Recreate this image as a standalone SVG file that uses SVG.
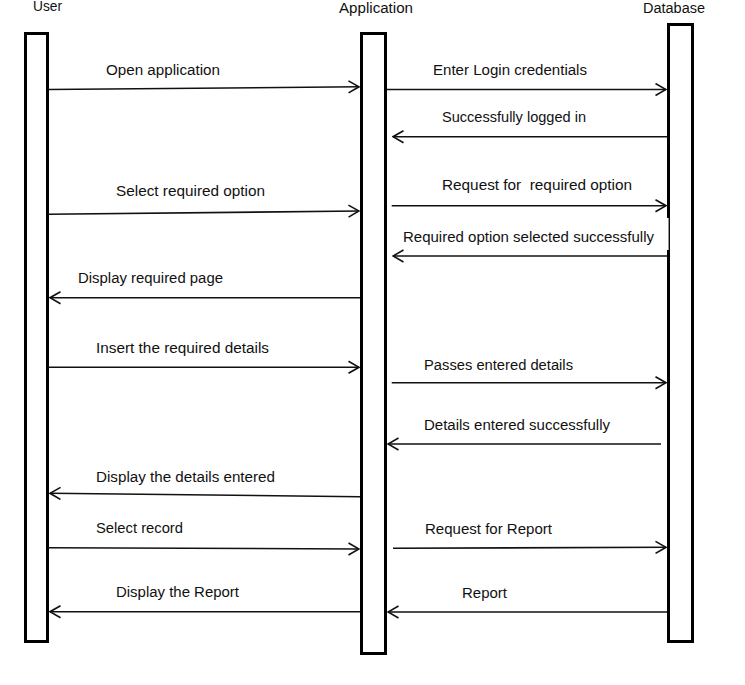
<svg xmlns="http://www.w3.org/2000/svg" width="745" height="685" viewBox="0 0 745 685">
<style>
.life{fill:#ffffff;stroke:#000000;stroke-width:3}
.hdr{font-family:"Liberation Sans",Arial,sans-serif;font-size:14px;fill:#111111}
.lbl{font-family:"Liberation Sans",Arial,sans-serif;font-size:15.5px;fill:#111111;white-space:pre}
.msg{stroke:#111111;stroke-width:1.6;fill:none;marker-end:url(#open)}
</style>
<defs>
<marker id="open" markerUnits="userSpaceOnUse" viewBox="0 0 12 14" refX="11" refY="7" markerWidth="12" markerHeight="14" orient="auto">
<path d="M0.5,1 L11,7 L0.5,13" fill="none" stroke="#111111" stroke-width="1.6"/>
</marker>
</defs>
<rect width="745" height="685" fill="#ffffff"/>
<g id="user">
<rect class="life" x="25.5" y="33.5" width="22" height="608"/>
<text class="hdr" x="33" y="11" textLength="29" lengthAdjust="spacingAndGlyphs">User</text>
</g>
<g id="application">
<rect class="life" x="361.5" y="33.5" width="24" height="620"/>
<text class="hdr" x="339" y="12.5" textLength="74" lengthAdjust="spacingAndGlyphs">Application</text>
</g>
<g id="database">
<rect class="life" x="668.5" y="24.5" width="24" height="617"/>
<rect x="665.5" y="218" width="3.2" height="32" fill="#ffffff"/>
<line x1="668.6" y1="218" x2="668.6" y2="250" stroke="#888888" stroke-width="0.8"/>
<text class="hdr" x="643" y="13" textLength="62" lengthAdjust="spacingAndGlyphs">Database</text>
</g>
<g id="connectors">
<line class="msg" x1="48" y1="89.5" x2="359" y2="86.8"/>
<line class="msg" x1="387" y1="89.5" x2="666" y2="89.5"/>
<line class="msg" x1="667" y1="136.7" x2="393" y2="136.7"/>
<line class="msg" x1="48" y1="214.3" x2="359" y2="211"/>
<line class="msg" x1="391.7" y1="205.7" x2="666" y2="205.7"/>
<line class="msg" x1="667" y1="256" x2="393" y2="256"/>
<line class="msg" x1="360" y1="297.7" x2="50" y2="297.7"/>
<line class="msg" x1="48" y1="367.3" x2="359" y2="367.3"/>
<line class="msg" x1="391.7" y1="382.7" x2="666" y2="382.7"/>
<line class="msg" x1="661" y1="444" x2="388" y2="444"/>
<line class="msg" x1="360" y1="496.7" x2="50" y2="493.3"/>
<line class="msg" x1="48" y1="547.7" x2="359" y2="549"/>
<line class="msg" x1="393" y1="548.3" x2="666" y2="547.3"/>
<line class="msg" x1="360" y1="611.7" x2="50" y2="611.7"/>
<line class="msg" x1="667" y1="612" x2="388" y2="612"/>
<text class="lbl" x="106" y="75" textLength="114" lengthAdjust="spacingAndGlyphs">Open application</text>
<text class="lbl" x="433" y="75" textLength="154" lengthAdjust="spacingAndGlyphs">Enter Login credentials</text>
<text class="lbl" x="442" y="122" textLength="144" lengthAdjust="spacingAndGlyphs">Successfully logged in</text>
<text class="lbl" x="116" y="196" textLength="149" lengthAdjust="spacingAndGlyphs">Select required option</text>
<text class="lbl" x="442" y="190" textLength="190" lengthAdjust="spacingAndGlyphs" xml:space="preserve">Request for  required option</text>
<text class="lbl" x="403" y="242" textLength="251" lengthAdjust="spacingAndGlyphs">Required option selected successfully</text>
<text class="lbl" x="78" y="283" textLength="145" lengthAdjust="spacingAndGlyphs">Display required page</text>
<text class="lbl" x="96" y="353" textLength="173" lengthAdjust="spacingAndGlyphs">Insert the required details</text>
<text class="lbl" x="424" y="370" textLength="149" lengthAdjust="spacingAndGlyphs">Passes entered details</text>
<text class="lbl" x="424" y="430" textLength="186" lengthAdjust="spacingAndGlyphs">Details entered successfully</text>
<text class="lbl" x="96" y="482" textLength="179" lengthAdjust="spacingAndGlyphs">Display the details entered</text>
<text class="lbl" x="96" y="533" textLength="87" lengthAdjust="spacingAndGlyphs">Select record</text>
<text class="lbl" x="425" y="534" textLength="127" lengthAdjust="spacingAndGlyphs">Request for Report</text>
<text class="lbl" x="116" y="597" textLength="123" lengthAdjust="spacingAndGlyphs">Display the Report</text>
<text class="lbl" x="462" y="598" textLength="45" lengthAdjust="spacingAndGlyphs">Report</text>
</g>
</svg>
